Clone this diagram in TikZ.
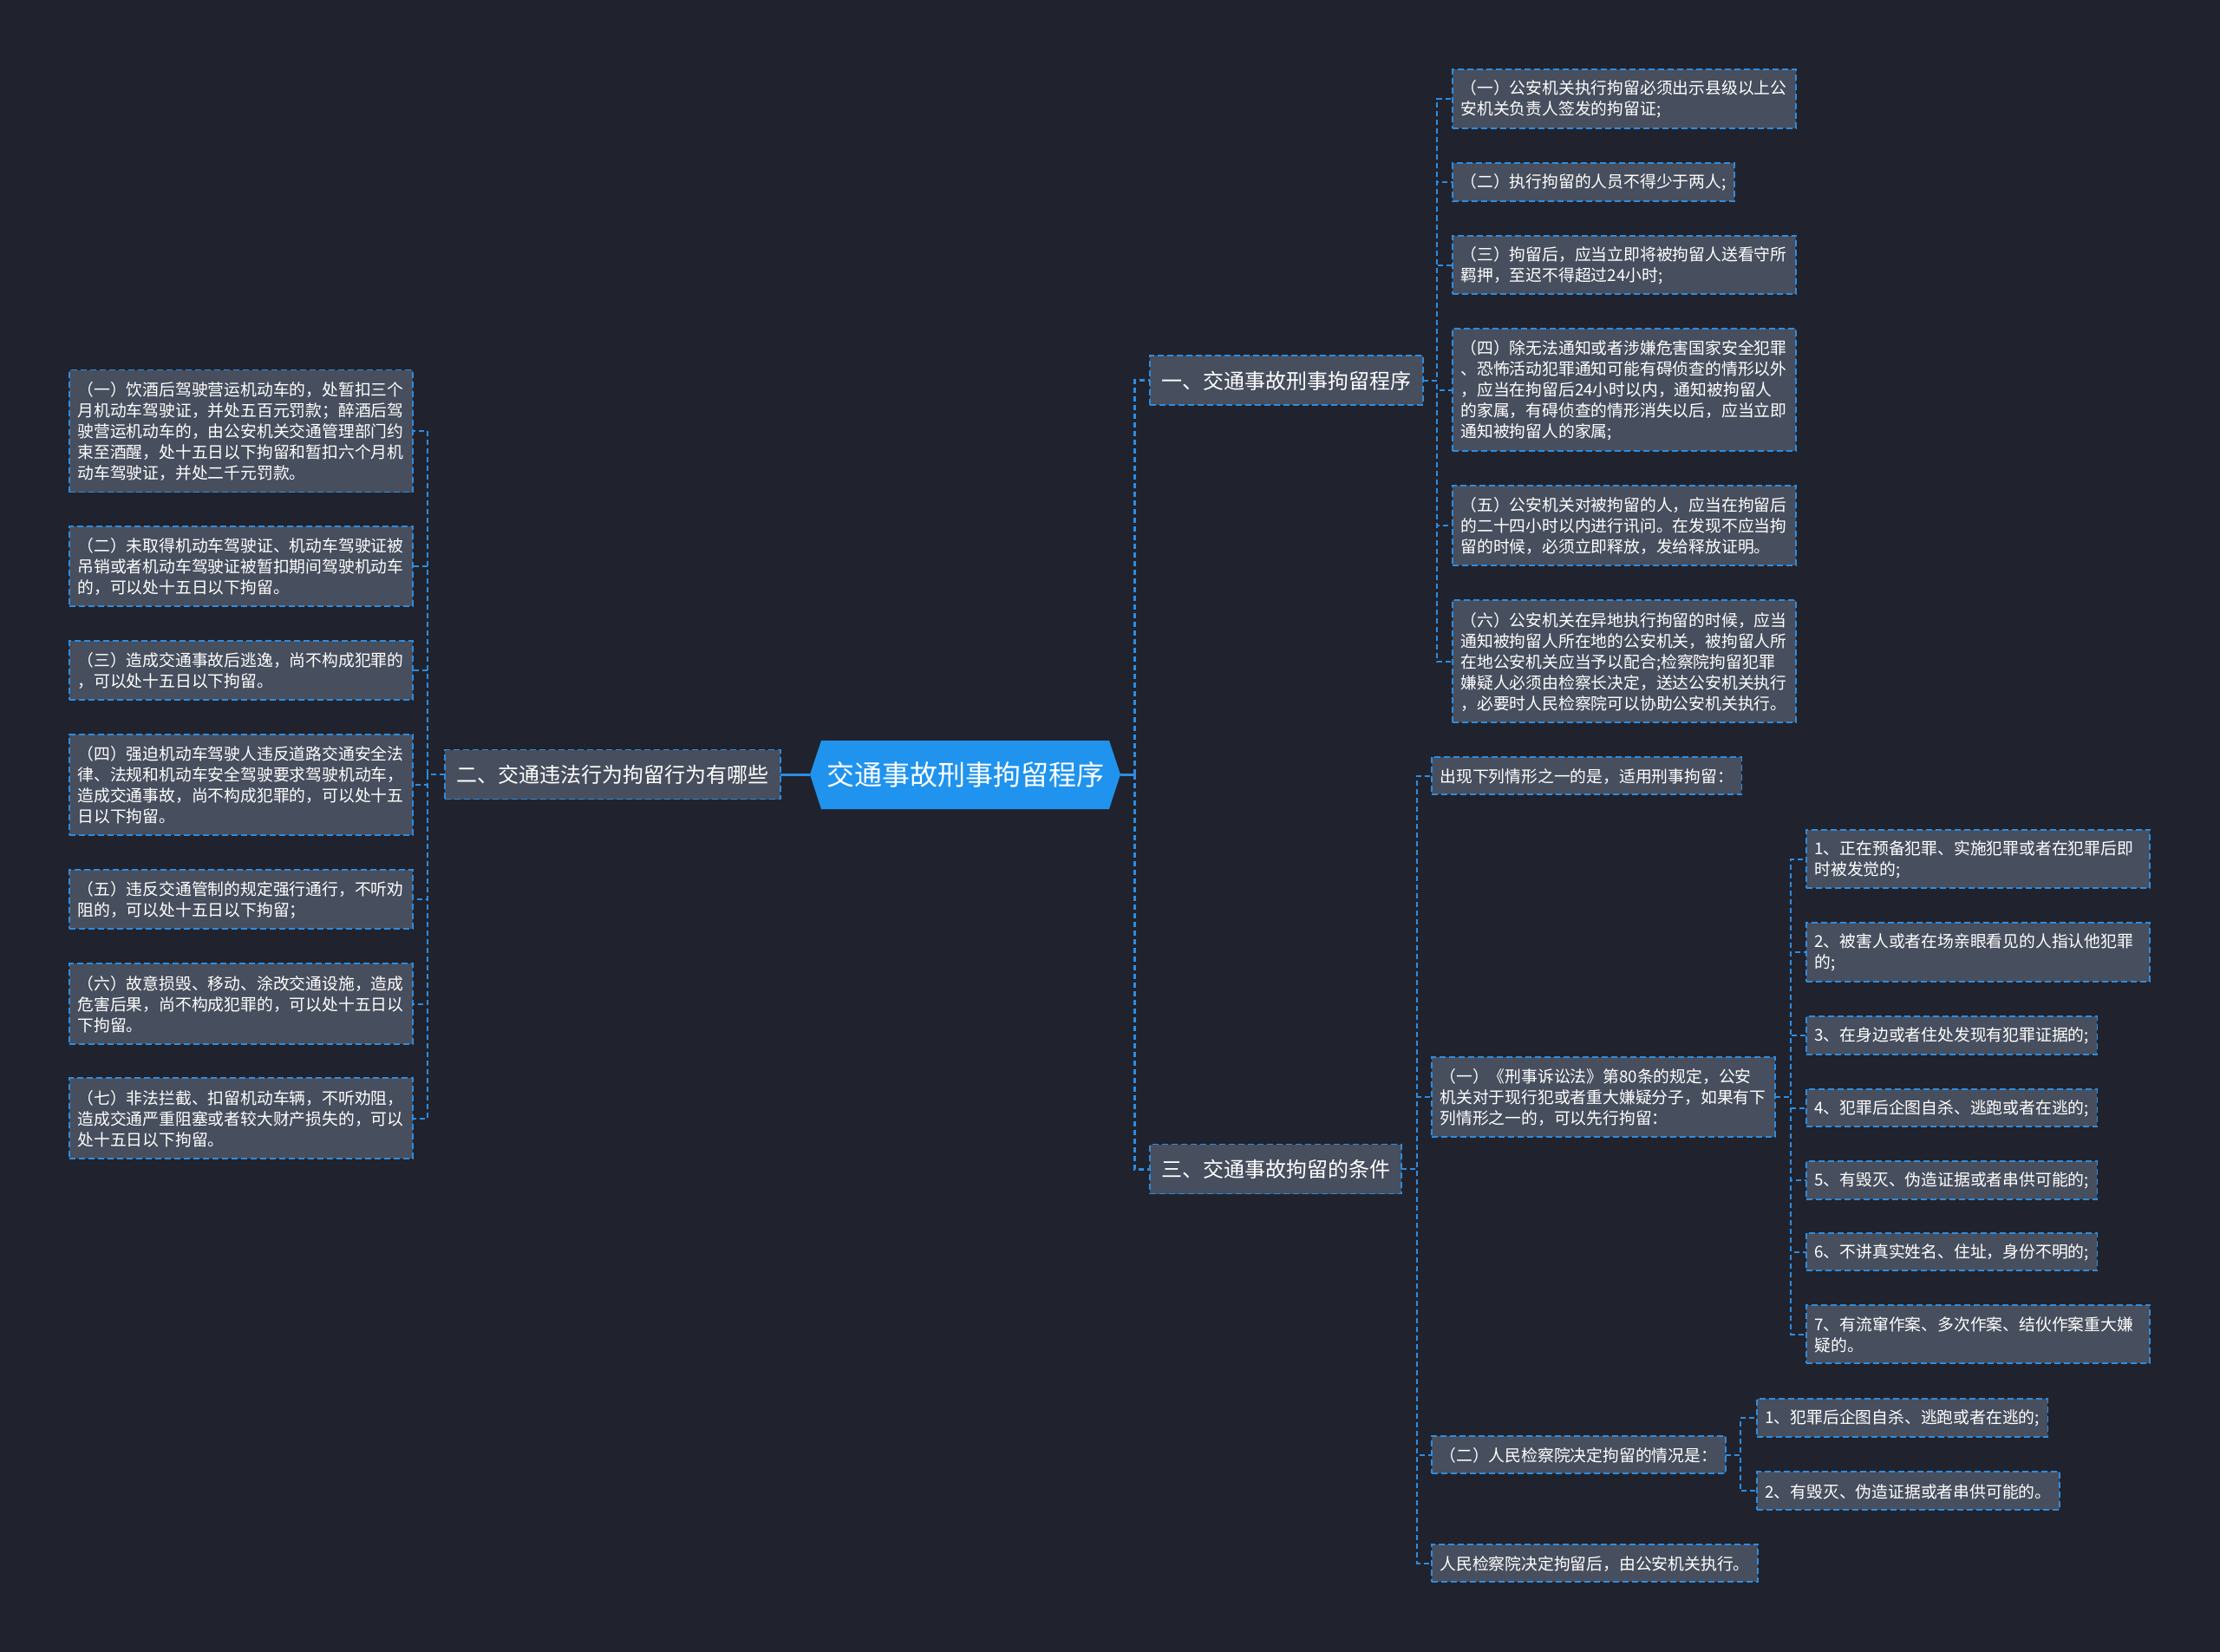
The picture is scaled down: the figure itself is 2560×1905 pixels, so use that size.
\documentclass[tikz,border=0pt]{standalone}
\usepackage{fontspec}
\setmainfont{Noto Sans CJK SC}
\definecolor{bgc}{HTML}{20232E}
\definecolor{nodefill}{HTML}{474E5D}
\definecolor{edgec}{HTML}{2D8CE0}
\definecolor{rootfill}{HTML}{1F93EE}
\newcommand\leaffont{\fontsize{18.8pt}{24pt}\selectfont}
\newcommand\midfont{\fontsize{24pt}{28pt}\selectfont}
\newcommand\rootfont{\fontsize{32pt}{36pt}\selectfont}
\newcommand\leafstrut{\rule[-1.26pt]{0pt}{18.8pt}}
\newcommand\midstrut{\rule[-2.4pt]{0pt}{24pt}}
\newcommand\rootstrut{\rule[-3.85pt]{0pt}{32pt}}
\begin{document}
\begin{tikzpicture}[x=1pt,y=-1pt,
  leaf/.style={draw=edgec, fill=nodefill, dash pattern=on 7pt off 4pt, line width=1.8pt,
    text=white, font=\leaffont, align=left, inner xsep=9.5pt, inner ysep=0pt, outer sep=0pt,
    anchor=west, execute at begin node=\leafstrut, execute at end node=\leafstrut},
  wide/.style={text width=377pt},
  h1/.style={minimum height=43.5pt},
  h2/.style={minimum height=67.5pt},
  h3/.style={minimum height=92.5pt},
  h4/.style={minimum height=116.5pt},
  h5/.style={minimum height=141pt},
  mid/.style={draw=edgec, fill=nodefill, dash pattern=on 7pt off 4pt, line width=1.8pt,
    text=white, font=\midfont, inner sep=0pt, outer sep=0pt, minimum height=57pt,
    anchor=west, execute at begin node=\midstrut},
  conn/.style={draw=edgec, line width=2pt, dash pattern=on 6pt off 4pt},
  mainconn/.style={draw=edgec, line width=3pt, dash pattern=on 6pt off 4pt},
  solidconn/.style={draw=edgec, line width=3pt}
]
\useasboundingbox (0,0) rectangle (2560,1905);
\fill[bgc] (0,0) rectangle (2560,1905);

% root
\fill[rootfill] (934,893) -- (947,854) -- (1279,854) -- (1292,893) -- (1279,933) -- (947,933) -- cycle;
\node[text=white, font=\rootfont, inner sep=0pt, outer sep=0pt, minimum width=358pt, minimum height=79pt,
  execute at begin node=\rootstrut] (root) at (1113,893) {交通事故刑事拘留程序};

% level 1
\node[mid, minimum width=315pt] (A) at (1326,438.5) {一、交通事故刑事拘留程序};
\node[mid, minimum width=387pt] (B) at (513,893) {二、交通违法行为拘留行为有哪些};
\node[mid, minimum width=290pt] (C) at (1326,1348) {三、交通事故拘留的条件};

% group A leaves
\node[leaf, wide, h2] (A1) at (1675,114) {（一）公安机关执行拘留必须出示县级以上公\\安机关负责人签发的拘留证;};
\node[leaf, h1] (A2) at (1675,210) {（二）执行拘留的人员不得少于两人;};
\node[leaf, wide, h2] (A3) at (1675,305.5) {（三）拘留后，应当立即将被拘留人送看守所\\羁押，至迟不得超过24小时;};
\node[leaf, wide, h5] (A4) at (1675,449.5) {（四）除无法通知或者涉嫌危害国家安全犯罪\\、恐怖活动犯罪通知可能有碍侦查的情形以外\\，应当在拘留后24小时以内，通知被拘留人\\的家属，有碍侦查的情形消失以后，应当立即\\通知被拘留人的家属;};
\node[leaf, wide, h3] (A5) at (1675,606) {（五）公安机关对被拘留的人，应当在拘留后\\的二十四小时以内进行讯问。在发现不应当拘\\留的时候，必须立即释放，发给释放证明。};
\node[leaf, wide, h5] (A6) at (1675,762.5) {（六）公安机关在异地执行拘留的时候，应当\\通知被拘留人所在地的公安机关，被拘留人所\\在地公安机关应当予以配合;检察院拘留犯罪\\嫌疑人必须由检察长决定，送达公安机关执行\\，必要时人民检察院可以协助公安机关执行。};

% group B leaves
\node[leaf, wide, h5] (B1) at (80,497) {（一）饮酒后驾驶营运机动车的，处暂扣三个\\月机动车驾驶证，并处五百元罚款；醉酒后驾\\驶营运机动车的，由公安机关交通管理部门约\\束至酒醒，处十五日以下拘留和暂扣六个月机\\动车驾驶证，并处二千元罚款。};
\node[leaf, wide, h3] (B2) at (80,653) {（二）未取得机动车驾驶证、机动车驾驶证被\\吊销或者机动车驾驶证被暂扣期间驾驶机动车\\的，可以处十五日以下拘留。};
\node[leaf, wide, h2] (B3) at (80,773) {（三）造成交通事故后逃逸，尚不构成犯罪的\\，可以处十五日以下拘留。};
\node[leaf, wide, h4] (B4) at (80,905) {（四）强迫机动车驾驶人违反道路交通安全法\\律、法规和机动车安全驾驶要求驾驶机动车，\\造成交通事故，尚不构成犯罪的，可以处十五\\日以下拘留。};
\node[leaf, wide, h2] (B5) at (80,1037) {（五）违反交通管制的规定强行通行，不听劝\\阻的，可以处十五日以下拘留；};
\node[leaf, wide, h3] (B6) at (80,1157.5) {（六）故意损毁、移动、涂改交通设施，造成\\危害后果，尚不构成犯罪的，可以处十五日以\\下拘留。};
\node[leaf, wide, h3] (B7) at (80,1289.5) {（七）非法拦截、扣留机动车辆，不听劝阻，\\造成交通严重阻塞或者较大财产损失的，可以\\处十五日以下拘留。};

% group C
\node[leaf, h1] (C1) at (1651,894.5) {出现下列情形之一的是，适用刑事拘留：};
\node[leaf, wide, h3] (C2) at (1651,1265) {（一）《刑事诉讼法》第80条的规定，公安\\机关对于现行犯或者重大嫌疑分子，如果有下\\列情形之一的，可以先行拘留：};
\node[leaf, h1] (C3) at (1651,1677.5) {（二）人民检察院决定拘留的情况是：};
\node[leaf, h1] (C4) at (1651,1802.5) {人民检察院决定拘留后，由公安机关执行。};

% group C2 children
\node[leaf, wide, h2] (D1) at (2083,990.5) {1、正在预备犯罪、实施犯罪或者在犯罪后即\\时被发觉的;};
\node[leaf, wide, h2] (D2) at (2083,1098) {2、被害人或者在场亲眼看见的人指认他犯罪\\的;};
\node[leaf, h1] (D3) at (2083,1194) {3、在身边或者住处发现有犯罪证据的;};
\node[leaf, h1] (D4) at (2083,1277.5) {4、犯罪后企图自杀、逃跑或者在逃的;};
\node[leaf, h1] (D5) at (2083,1361) {5、有毁灭、伪造证据或者串供可能的;};
\node[leaf, h1] (D6) at (2083,1443.5) {6、不讲真实姓名、住址，身份不明的;};
\node[leaf, wide, h2] (D7) at (2083,1538.5) {7、有流窜作案、多次作案、结伙作案重大嫌\\疑的。};

% group C3 children
\node[leaf, h1] (E1) at (2026,1635) {1、犯罪后企图自杀、逃跑或者在逃的;};
\node[leaf, h1] (E2) at (2026,1719) {2、有毁灭、伪造证据或者串供可能的。};

% connectors
\coordinate (rv) at (1308,893);
\draw[solidconn] (root.east) -- (rv);
\draw[mainconn] (rv) |- (A.west);
\draw[mainconn] (rv) |- (C.west);
\draw[solidconn] (root.west) -- (B.east);

\foreach \c in {A1,A2,A3,A4,A5,A6}{\draw[conn] (A.east) -- ++(16,0) |- (\c.west);}
\foreach \c in {B1,B2,B3,B4,B5,B6,B7}{\draw[conn] (B.west) -- ++(-20,0) |- (\c.east);}
\foreach \c in {C1,C2,C3,C4}{\draw[conn] (C.east) -- ++(18,0) |- (\c.west);}
\foreach \c in {D1,D2,D3,D4,D5,D6,D7}{\draw[conn] (C2.east) -- ++(18,0) |- (\c.west);}
\foreach \c in {E1,E2}{\draw[conn] (C3.east) -- ++(17,0) |- (\c.west);}
\end{tikzpicture}
\end{document}
